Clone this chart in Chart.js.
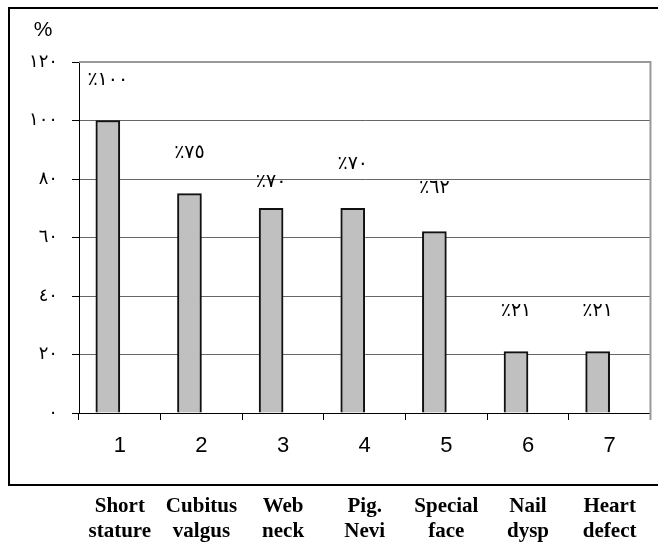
<!DOCTYPE html>
<html>
<head>
<meta charset="utf-8">
<script src="https://cdn.jsdelivr.net/npm/chart.js@4"></script>
<style>
  html, body { margin: 0; padding: 0; background: #fff; }
  #wrap { width: 658px; height: 542px; }
</style>
</head>
<body>
<div id="wrap"><canvas id="chart" width="658" height="542"></canvas></div>
<script>
const categories = ["1", "2", "3", "4", "5", "6", "7"];
const values = [100, 75, 70, 70, 62, 21, 21];
const featureNames = [
  ["Short", "stature"],
  ["Cubitus", "valgus"],
  ["Web", "neck"],
  ["Pig.", "Nevi"],
  ["Special", "face"],
  ["Nail", "dysp"],
  ["Heart", "defect"]
];
const yTicks = [0, 20, 40, 60, 80, 100, 120];

const arabicDigits = "٠١٢٣٤٥٦٧٨٩";
function toArabic(n) {
  return String(n).replace(/\d/g, (d) => arabicDigits[d]);
}

// labels above bars, lifted by hand like in the original
const barLabels = {
  id: "barLabels",
  afterDatasetsDraw(chart, args, opts) {
    const ctx = chart.ctx;
    const meta = chart.getDatasetMeta(0);
    ctx.save();
    ctx.font = "19px 'DejaVu Sans'";
    ctx.fillStyle = "#000";
    ctx.textAlign = "center";
    ctx.textBaseline = "middle";
    meta.data.forEach((bar, i) => {
      ctx.fillText("٪" + toArabic(values[i]), bar.x, bar.y - opts.lift[i]);
    });
    ctx.restore();
  }
};

// outer box, plot frame and the % sign
const frame = {
  id: "frame",
  beforeDatasetsDraw(chart) {
    const { ctx, chartArea } = chart;
    ctx.save();
    ctx.strokeStyle = "#999";
    ctx.lineWidth = 2;
    ctx.beginPath();
    ctx.moveTo(chartArea.left, chartArea.top);
    ctx.lineTo(chartArea.right, chartArea.top);
    ctx.lineTo(chartArea.right, chartArea.bottom + 7);
    ctx.stroke();
    ctx.restore();
  },
  afterDraw(chart) {
    const ctx = chart.ctx;
    ctx.save();
    ctx.strokeStyle = "#000";
    ctx.lineWidth = 2;
    ctx.beginPath();
    ctx.moveTo(658, 8);
    ctx.lineTo(9, 8);
    ctx.lineTo(9, 485);
    ctx.lineTo(658, 485);
    ctx.stroke();
    ctx.font = "21px 'Liberation Sans', Arial";
    ctx.fillStyle = "#000";
    ctx.textAlign = "center";
    ctx.textBaseline = "middle";
    ctx.fillText("%", 43, 30);
    ctx.restore();
  }
};

new Chart(document.getElementById("chart"), {
  type: "bar",
  data: {
    labels: categories,
    datasets: [
      {
        data: values,
        backgroundColor: "#c0c0c0",
        borderColor: "#111",
        borderWidth: 2,
        barThickness: 24
      },
      {
        // empty partner series, keeps the bar left of the category middle
        data: categories.map(() => null),
        barThickness: 24
      }
    ]
  },
  options: {
    responsive: false,
    animation: false,
    layout: { padding: { top: 62, right: 6, left: 0, bottom: 0 } },
    plugins: {
      legend: { display: false },
      tooltip: { enabled: false },
      barLabels: { lift: [40, 41, 26, 44, 44, 41, 41] }
    },
    scales: {
      x: {
        weight: 0,
        grid: {
          offset: true,
          drawOnChartArea: false,
          tickLength: 7,
          color: "#000",
          tickColor: "#000"
        },
        border: { color: "#000", width: 1 },
        ticks: {
          padding: 13,
          color: "#000",
          font: { family: "'Liberation Sans', Arial", size: 22 }
        },
        afterFit: (scale) => { scale.height = 60; }
      },
      x2: {
        type: "category",
        position: "bottom",
        weight: 1,
        labels: featureNames,
        grid: { display: false, drawTicks: false },
        border: { display: false },
        ticks: {
          padding: 21,
          color: "#000",
          font: { family: "'Liberation Serif', 'Times New Roman'", size: 21, weight: "bold", lineHeight: 1.2 }
        },
        afterFit: (scale) => { scale.height = 69; }
      },
      y: {
        min: 0,
        max: 120,
        afterBuildTicks: (scale) => {
          scale.ticks = yTicks.map((v) => ({ value: v }));
        },
        grid: {
          color: "#666",
          tickColor: "#000",
          tickLength: 7
        },
        border: { color: "#000", width: 1 },
        ticks: {
          padding: 14,
          color: "#000",
          font: { family: "'DejaVu Sans'", size: 18 },
          callback: (v) => toArabic(v)
        },
        afterFit: (scale) => { scale.width = 79; }
      }
    }
  },
  plugins: [frame, barLabels]
});
</script>
</body>
</html>
